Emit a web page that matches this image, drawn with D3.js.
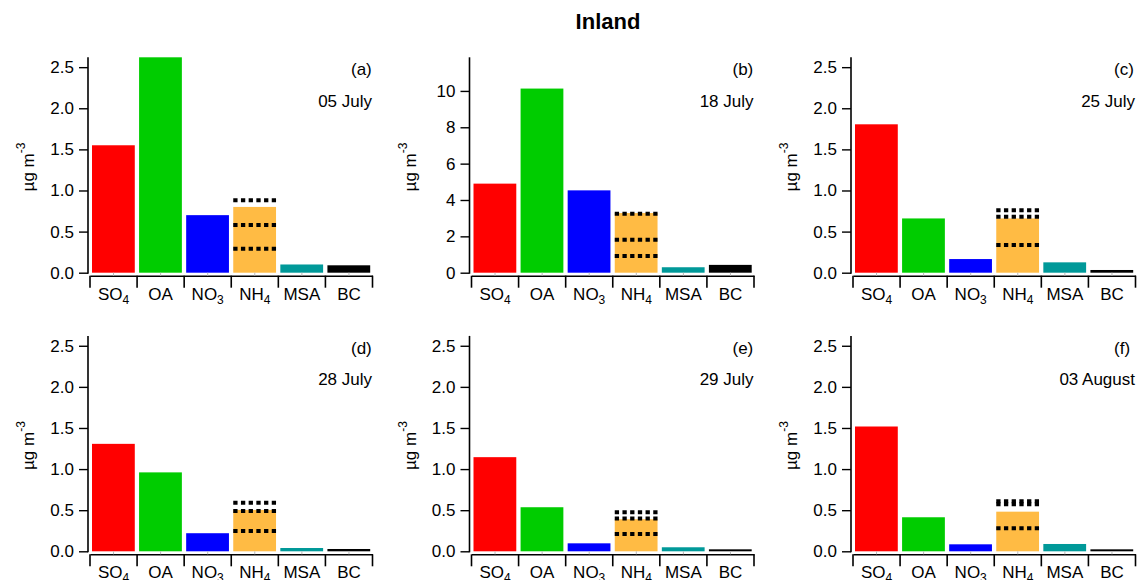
<!DOCTYPE html>
<html>
<head>
<meta charset="utf-8">
<script src="https://cdn.jsdelivr.net/npm/d3@7"></script>
<style>
html,body{margin:0;padding:0;background:#fff;}
svg{display:block;font-family:"Liberation Sans",Arial,sans-serif;}
</style>
</head>
<body>
<svg id="chart" width="1137" height="580"></svg>
<script>
// ---- data ----
const categories = ["SO4","OA","NO3","NH4","MSA","BC"];
const catMain = ["SO","OA","NO","NH","MSA","BC"];
const catSub  = ["4","","3","4","",""];
const panelLetters = ["(a)","(b)","(c)","(d)","(e)","(f)"];
const panelDates = ["05 July","18 July","25 July","28 July","29 July","03 August"];
const so4 = [1.55, 4.90, 1.805, 1.307, 1.145, 1.518];
const oa  = [2.62, 10.13, 0.66, 0.96, 0.536, 0.414];
const no3 = [0.70, 4.53, 0.166, 0.22, 0.097, 0.085];
const nh4 = [0.80, 3.28, 0.66, 0.503, 0.39, 0.482];
const msa = [0.10, 0.30, 0.126, 0.04, 0.049, 0.089];
const bc  = [0.09, 0.43, 0.033, 0.028, 0.024, 0.024];
const nh4Lines = [
  [0.88, 0.58, 0.29],
  [3.24, 1.81, 0.92],
  [0.76, 0.68, 0.336],
  [0.59, 0.49, 0.247],
  [0.475, 0.40, 0.21],
  [0.609, 0.572, 0.28]
];
const yMax = [2.62, 11.85, 2.62, 2.62, 2.62, 2.62];
const yTicksSmall = [0, 0.5, 1.0, 1.5, 2.0, 2.5];
const yTicksLarge = [0, 2, 4, 6, 8, 10];
const colors = ["#ff0000","#00cc00","#0000ff","#ffbb44","#009999","#000000"];

// ---- layout ----
const svg = d3.select("#chart");
const colX = [88, 469.5, 851];
const rowZero = [272.7, 551.3];
const plotH = 215.4;
const plotW = 284;

svg.append("text").attr("x", 608).attr("y", 29).attr("text-anchor","middle")
  .attr("font-size", 22).attr("font-weight","bold").text("Inland");

const series = [so4, oa, no3, nh4, msa, bc];

for (let p = 0; p < 6; p++) {
  const ax = colX[p % 3];
  const y0 = rowZero[Math.floor(p / 3)];
  const g = svg.append("g");
  const y = d3.scaleLinear().domain([0, yMax[p]]).range([y0, y0 - plotH]);
  const x = d3.scaleBand().domain(categories).range([ax + 2, ax + 2 + 282.5]).padding(0);
  const bw = x.bandwidth();
  const vals = series.map(s => s[p]);

  // bars
  g.selectAll("rect.bar").data(categories).join("rect")
    .attr("x", c => x(c) + 2)
    .attr("width", bw - 4.3)
    .attr("y", (c, i) => y(Math.min(vals[i], yMax[p])))
    .attr("height", (c, i) => y(0) - y(Math.min(vals[i], yMax[p])))
    .attr("fill", (c, i) => colors[i]);

  // NH4 dotted lines
  g.selectAll("line.nh").data(nh4Lines[p]).join("line")
    .attr("x1", x("NH4") + 2).attr("x2", x("NH4") + 2 + bw - 4.3)
    .attr("y1", d => y(d)).attr("y2", d => y(d))
    .attr("stroke", "#000").attr("stroke-width", 4)
    .attr("stroke-dasharray", "4.3 3.4");

  // y axis
  const yAxis = d3.axisLeft(y)
    .tickValues(p === 1 ? yTicksLarge : yTicksSmall)
    .tickFormat(p === 1 ? d3.format("d") : d3.format(".1f"))
    .tickSize(9).tickPadding(5).tickSizeOuter(0);
  const ya = g.append("g").attr("transform", `translate(${ax},0)`).call(yAxis);
  ya.select(".domain").attr("stroke-width", 1.6).attr("d", `M0,${y(yMax[p])}V${y0 + 1}`);
  ya.selectAll(".tick line").attr("stroke-width", 1.4);
  ya.selectAll(".tick text").attr("font-size", 17).attr("font-family", "Liberation Sans, Arial, sans-serif").attr("fill","#000");

  // x axis (offset below zero)
  const xa = y0 + 3;
  const xAxis = d3.axisBottom(x).tickSize(0).tickFormat("");
  const xg = g.append("g").attr("transform", `translate(0,${xa})`).call(xAxis);
  xg.select(".domain").attr("stroke-width", 1.6);
  // boundary ticks
  const bounds = categories.map(c => x(c)).concat([x(categories[5]) + bw]);
  g.selectAll("line.bt").data(bounds).join("line")
    .attr("x1", d => d).attr("x2", d => d).attr("y1", xa).attr("y2", xa + 12)
    .attr("stroke", "#000").attr("stroke-width", 1.6);
  // small center ticks
  g.selectAll("line.ct").data(categories).join("line")
    .attr("x1", c => x(c) + bw / 2).attr("x2", c => x(c) + bw / 2)
    .attr("y1", xa).attr("y2", xa - 3)
    .attr("stroke", "#bbb").attr("stroke-width", 1);

  // category labels
  categories.forEach((c, i) => {
    const t = g.append("text").attr("x", x(c) + bw / 2).attr("y", xa + 24)
      .attr("text-anchor", "middle").attr("font-size", 17);
    t.append("tspan").text(catMain[i]);
    if (catSub[i]) t.append("tspan").attr("font-size", 12).attr("dy", 4).text(catSub[i]);
  });

  // y label
  const yl = g.append("text")
    .attr("transform", `translate(${ax - 54},${y0 - plotH / 2 + 2}) rotate(-90)`)
    .attr("text-anchor", "middle").attr("font-size", 17);
  yl.append("tspan").text("\u00b5g m");
  yl.append("tspan").attr("font-size", 12).attr("dy", -9).text("-3");

  // panel letter and date
  g.append("text").attr("x", ax + 263).attr("y", y0 - 197.5).attr("font-size", 17).text(panelLetters[p]);
  g.append("text").attr("x", ax + 284).attr("y", y0 - 166).attr("text-anchor", "end")
    .attr("font-size", 17).text(panelDates[p]);
}
</script>
</body>
</html>
